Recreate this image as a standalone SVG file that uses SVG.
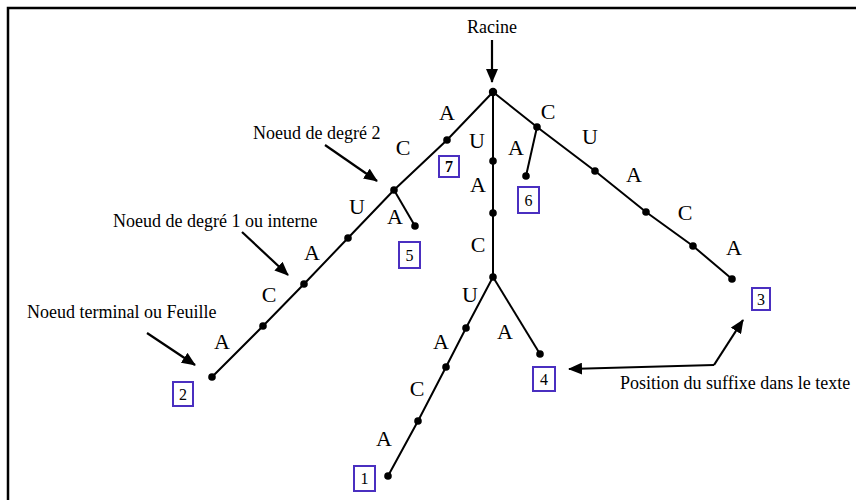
<svg xmlns="http://www.w3.org/2000/svg" width="860" height="500" viewBox="0 0 860 500">
<defs>
<marker id="ah" markerUnits="userSpaceOnUse" markerWidth="14" markerHeight="12" refX="13" refY="6" orient="auto">
<path d="M0,0 L14,6 L0,12 Z" fill="#000"/>
</marker>
<style>
.e{stroke:#000;stroke-width:2;fill:none}
.a{stroke:#000;stroke-width:2.2;fill:none;marker-end:url(#ah)}
.n{fill:#000}
.l{font-family:"Liberation Serif","Times New Roman",serif;font-size:22px;fill:#000;text-anchor:middle}
.t{font-family:"Liberation Serif","Times New Roman",serif;font-size:18px;fill:#000}
.b{fill:#fff;stroke:#4a2fc0;stroke-width:2}
.bt{font-family:"Liberation Serif","Times New Roman",serif;font-size:16px;fill:#000;text-anchor:middle}
</style>
</defs>
<rect width="860" height="500" fill="#fff"/>
<path d="M8,500 V8 H856" stroke="#000" stroke-width="2.5" fill="none"/>

<g id="connectors">
<polyline class="e" points="493,92 447,140 394,190 348,238 304,284 263,326 212,377"/>
<line class="e" x1="394" y1="190" x2="415" y2="226"/>
<polyline class="e" points="493,92 493,161 493,213 493,277 466,328 446,367 418,421 388,476"/>
<line class="e" x1="493" y1="277" x2="540" y2="354"/>
<polyline class="e" points="493,92 537,127 595,171 646,212 693,246 732,279"/>
<line class="e" x1="537" y1="127" x2="526" y2="176"/>
<line class="a" x1="492" y1="40" x2="492" y2="82"/>
<line class="a" x1="325" y1="145" x2="377" y2="181"/>
<line class="a" x1="242" y1="232" x2="288" y2="275"/>
<line class="a" x1="147" y1="333" x2="195" y2="365"/>
<line class="a" x1="714" y1="365" x2="569" y2="369"/>
<line class="a" x1="714" y1="365" x2="743" y2="320"/>
<g id="edge-labels">
<text class="l" x="447" y="120">A</text>
<text class="l" x="403" y="155">C</text>
<text class="l" x="477" y="148">U</text>
<text class="l" x="478" y="192">A</text>
<text class="l" x="548" y="119">C</text>
<text class="l" x="590" y="144">U</text>
<text class="l" x="516" y="155">A</text>
<text class="l" x="634" y="182">A</text>
<text class="l" x="685" y="220">C</text>
<text class="l" x="734" y="255">A</text>
<text class="l" x="357" y="214">U</text>
<text class="l" x="395" y="224">A</text>
<text class="l" x="312" y="260">A</text>
<text class="l" x="269" y="302">C</text>
<text class="l" x="222" y="349">A</text>
<text class="l" x="478" y="252">C</text>
<text class="l" x="470" y="302">U</text>
<text class="l" x="441" y="349">A</text>
<text class="l" x="505" y="339">A</text>
<text class="l" x="417" y="396">C</text>
<text class="l" x="384" y="446">A</text>
</g>
</g>

<g id="root"><circle class="n" cx="493" cy="92" r="4.2"/></g>
<g id="n-l1"><circle class="n" cx="447" cy="140" r="3.8"/></g>
<g id="n-l2"><circle class="n" cx="394" cy="190" r="3.8"/></g>
<g id="n-l3"><circle class="n" cx="348" cy="238" r="3.8"/></g>
<g id="n-l4"><circle class="n" cx="304" cy="284" r="3.8"/></g>
<g id="n-l5"><circle class="n" cx="263" cy="326" r="3.8"/></g>
<g id="leaf-2"><circle class="n" cx="212" cy="377" r="3.8"/><rect class="b" x="173" y="382" width="20" height="24"/><text class="bt" x="183" y="400">2</text></g>
<g id="leaf-5"><circle class="n" cx="415" cy="226" r="3.8"/><rect class="b" x="399" y="242" width="21" height="26"/><text class="bt" x="409.5" y="261">5</text></g>
<g id="n-m1"><circle class="n" cx="493" cy="161" r="3.8"/></g>
<g id="n-m2"><circle class="n" cx="493" cy="213" r="3.8"/></g>
<g id="n-m3"><circle class="n" cx="493" cy="277" r="3.8"/></g>
<g id="n-n1"><circle class="n" cx="466" cy="328" r="3.8"/></g>
<g id="n-n2"><circle class="n" cx="446" cy="367" r="3.8"/></g>
<g id="n-n3"><circle class="n" cx="418" cy="421" r="3.8"/></g>
<g id="leaf-1"><circle class="n" cx="388" cy="476" r="3.8"/><rect class="b" x="354" y="466" width="21" height="25"/><text class="bt" x="364.5" y="484">1</text></g>
<g id="leaf-4"><circle class="n" cx="540" cy="354" r="3.8"/><rect class="b" x="533" y="367" width="22" height="24"/><text class="bt" x="544" y="385">4</text></g>
<g id="n-r1"><circle class="n" cx="537" cy="127" r="3.8"/></g>
<g id="n-r2"><circle class="n" cx="595" cy="171" r="3.8"/></g>
<g id="n-r3"><circle class="n" cx="646" cy="212" r="3.8"/></g>
<g id="n-r4"><circle class="n" cx="693" cy="246" r="3.8"/></g>
<g id="leaf-3"><circle class="n" cx="732" cy="279" r="3.8"/><rect class="b" x="752" y="288" width="18" height="22"/><text class="bt" x="761" y="305">3</text></g>
<g id="leaf-6"><circle class="n" cx="526" cy="176" r="3.8"/><rect class="b" x="518" y="187" width="21" height="26"/><text class="bt" x="528.5" y="206">6</text></g>
<g id="box-7"><rect class="b" x="439" y="156" width="20" height="21"/><text class="bt" x="449" y="172" font-weight="bold">7</text></g>

<g id="ann-racine"><text class="t" x="492" y="33" text-anchor="middle">Racine</text></g>
<g id="ann-degre2"><text class="t" x="253" y="139">Noeud de degré 2</text></g>
<g id="ann-degre1"><text class="t" x="113" y="227">Noeud de degré 1 ou interne</text></g>
<g id="ann-terminal"><text class="t" x="27" y="318">Noeud terminal ou Feuille</text></g>
<g id="ann-position"><text class="t" x="620" y="389">Position du suffixe dans le texte</text></g>
</svg>
